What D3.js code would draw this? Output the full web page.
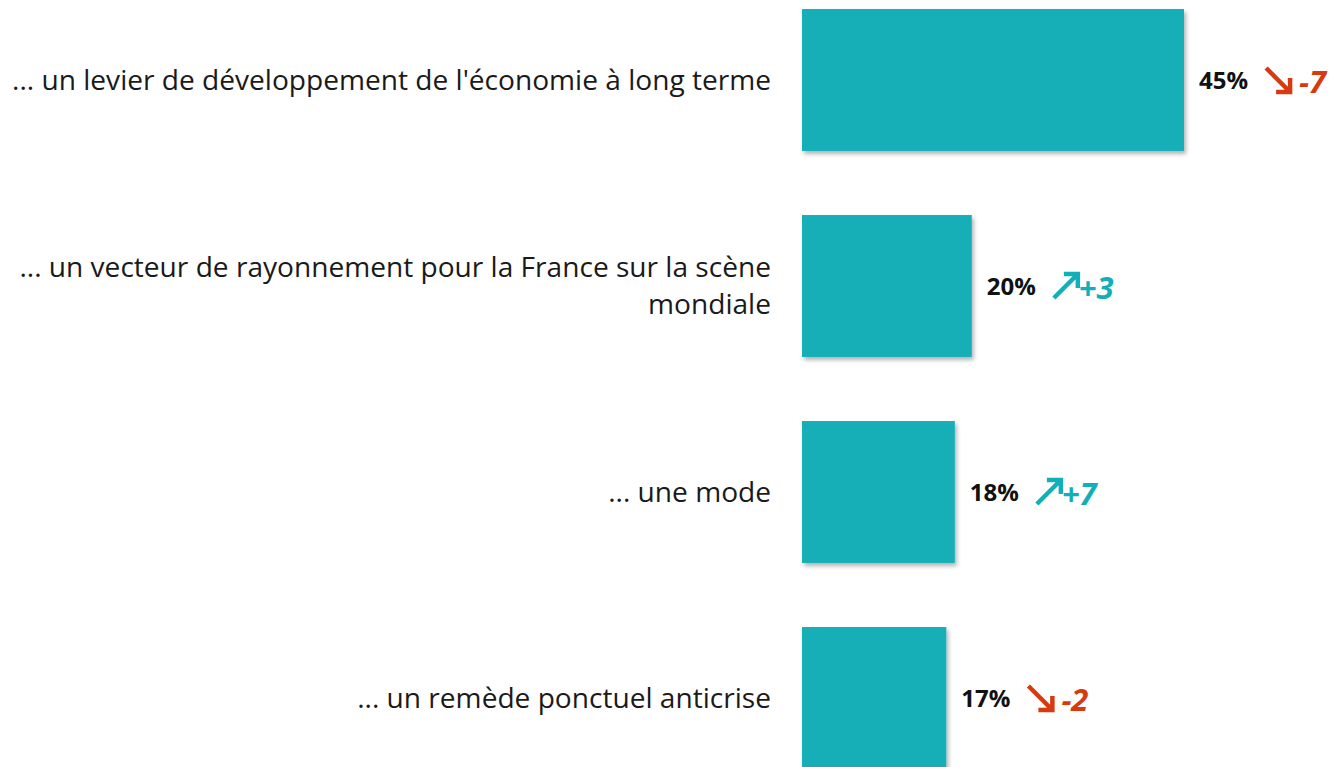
<!DOCTYPE html>
<html>
<head>
<meta charset="utf-8">
<script src="https://cdn.jsdelivr.net/npm/d3@7"></script>
<style>
  body { margin: 0; background: #fff; }
  text { font-family: "Open Sans", "Liberation Sans", sans-serif; }
</style>
</head>
<body>
<div id="chart"></div>
<script>
// categories, one array of lines per label
var categories = [
	["... un levier de développement de l'économie à long terme"],
	["... un vecteur de rayonnement pour la France sur la scène", "mondiale"],
	["... une mode"],
	["... un remède ponctuel anticrise"]
];
var values = [45, 20, 18, 17];
var deltas = [-7, 3, 7, -2];

var width = 1340, height = 767;
var teal = "#13afb8", red = "#d83a0f";

var svg = d3.select("#chart").append("svg")
	.attr("width", width)
	.attr("height", height);

// soft shadow under the bars
var f = svg.append("defs").append("filter")
	.attr("id", "shadow")
	.attr("x", "-5%").attr("y", "-5%")
	.attr("width", "115%").attr("height", "125%");
f.append("feDropShadow")
	.attr("dx", 2).attr("dy", 3)
	.attr("stdDeviation", 2)
	.attr("flood-color", "#000")
	.attr("flood-opacity", 0.3);

var x = d3.scaleLinear().domain([0, 45]).range([802, 1184]);
var y = d3.scaleBand()
	.domain(d3.range(values.length))
	.range([-23, 801])
	.paddingInner(0.311)
	.paddingOuter(0.1555);

var rows = svg.selectAll(".row")
	.data(values)
	.enter().append("g")
	.attr("class", "row");

rows.append("rect")
	.attr("x", x(0))
	.attr("y", function(d, i) { return y(i); })
	.attr("width", function(d) { return x(d) - x(0); })
	.attr("height", y.bandwidth())
	.style("fill", teal)
	.attr("filter", "url(#shadow)");

// category labels, right aligned
rows.append("text")
	.attr("text-anchor", "end")
	.attr("font-size", 28.1)
	.style("fill", "#1a1a1a")
	.each(function(d, i) {
		var lines = categories[i];
		var cy = y(i) + y.bandwidth() / 2;
		var lh = 37;
		var t = d3.select(this);
		lines.forEach(function(line, j) {
			t.append("tspan")
				.attr("x", 771)
				.attr("y", cy - (lines.length - 1) * lh / 2 + j * lh)
				.attr("dy", "0.35em")
				.text(line);
		});
	});

// value labels
rows.append("text")
	.attr("class", "val")
	.attr("x", function(d) { return x(d) + 15; })
	.attr("y", function(d, i) { return y(i) + y.bandwidth() / 2 + 1; })
	.attr("dy", "0.35em")
	.attr("font-size", 24)
	.attr("font-weight", "bold")
	.style("fill", "#111")
	.text(function(d) { return d + "%"; });

// change arrows and numbers
rows.each(function(d, i) {
	var g = d3.select(this);
	var tw = g.select(".val").node().getComputedTextLength();
	var x0 = x(d) + 15 + tw + 18;
	var cy = y(i) + y.bandwidth() / 2;
	var dv = deltas[i];
	var col = dv < 0 ? red : teal;
	var L = 24, h = 14;
	var p;
	if (dv < 0) {
		p = "M" + x0 + "," + (cy - L / 2) + "L" + (x0 + L) + "," + (cy + L / 2) +
			"M" + (x0 + L - h) + "," + (cy + L / 2) + "L" + (x0 + L) + "," + (cy + L / 2) +
			"L" + (x0 + L) + "," + (cy + L / 2 - h);
	} else {
		p = "M" + x0 + "," + (cy + L / 2) + "L" + (x0 + L) + "," + (cy - L / 2) +
			"M" + (x0 + L - h) + "," + (cy - L / 2) + "L" + (x0 + L) + "," + (cy - L / 2) +
			"L" + (x0 + L) + "," + (cy - L / 2 + h);
	}
	g.append("path")
		.attr("d", p)
		.style("fill", "none")
		.style("stroke", col)
		.style("stroke-width", 4.5)
		.style("stroke-linecap", "butt")
		.style("stroke-linejoin", "miter");
	g.append("text")
		.attr("x", x0 + L + (dv < 0 ? 9 : 1))
		.attr("y", cy + 2)
		.attr("dy", "0.35em")
		.attr("font-size", 31)
		.attr("font-weight", "bold")
		.attr("font-style", "italic")
		.style("fill", col)
		.text((dv > 0 ? "+" : "") + dv);
});
</script>
</body>
</html>
